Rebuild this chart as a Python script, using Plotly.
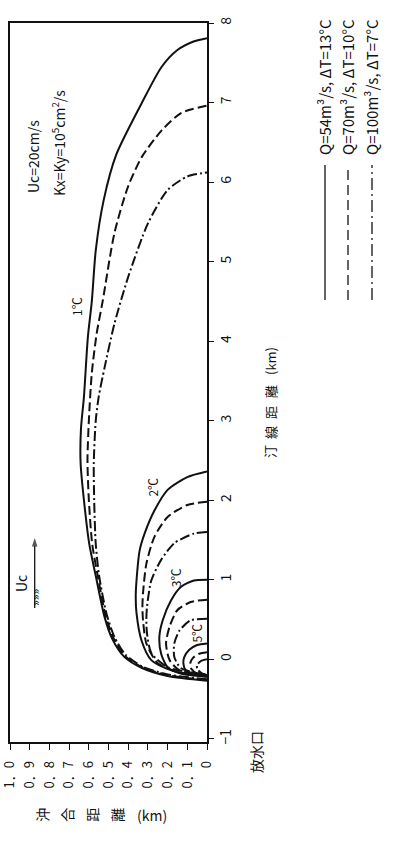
import plotly.graph_objects as go

# ---------------- data (offshore distance km, alongshore distance km) ----------------
# 1 degC isotherms
S1_off = [0, 0.2, 0.33, 0.42, 0.48, 0.52, 0.565, 0.598, 0.625, 0.642, 0.64, 0.625, 0.605, 0.585, 0.565, 0.525, 0.46, 0.33, 0.23, 0.15, 0.065, 0]
S1_along = [-0.27, -0.21, -0.11, 0.03, 0.25, 0.53, 1.05, 1.45, 2.0, 2.47, 2.9, 3.3, 4.05, 4.5, 5.14, 5.77, 6.35, 7.0, 7.45, 7.66, 7.77, 7.81]
D1_off = [0, 0.2, 0.33, 0.42, 0.475, 0.515, 0.555, 0.583, 0.60, 0.607, 0.60, 0.585, 0.56, 0.53, 0.47, 0.40, 0.33, 0.23, 0.13, 0]
D1_along = [-0.26, -0.2, -0.1, 0.05, 0.27, 0.55, 1.05, 1.45, 2.0, 2.5, 3.0, 3.6, 4.1, 4.5, 5.36, 5.95, 6.32, 6.65, 6.87, 6.96]
DD1_off = [0, 0.2, 0.33, 0.415, 0.47, 0.51, 0.548, 0.565, 0.573, 0.575, 0.565, 0.55, 0.52, 0.47, 0.40, 0.30, 0.2, 0.1, 0]
DD1_along = [-0.25, -0.19, -0.09, 0.06, 0.28, 0.57, 1.05, 1.45, 2.0, 2.47, 3.0, 3.3, 3.67, 4.22, 4.81, 5.48, 5.9, 6.07, 6.12]
# 2 degC
S2_off = [0, 0.1, 0.2, 0.267, 0.317, 0.342, 0.358, 0.362, 0.358, 0.333, 0.283, 0.18, 0.09, 0]
S2_along = [2.36, 2.29, 2.13, 1.87, 1.58, 1.37, 0.99, 0.78, 0.58, 0.24, -0.01, -0.14, -0.19, -0.21]
D2_off = [0, 0.1, 0.2, 0.267, 0.308, 0.325, 0.328, 0.325, 0.308, 0.25, 0.15, 0]
D2_along = [1.98, 1.94, 1.79, 1.54, 1.2, 0.83, 0.66, 0.49, 0.2, -0.05, -0.16, -0.2]
DD2_off = [0, 0.067, 0.166, 0.233, 0.283, 0.305, 0.308, 0.305, 0.283, 0.2, 0]
DD2_along = [1.6, 1.58, 1.46, 1.25, 0.99, 0.65, 0.5, 0.33, 0.08, -0.1, -0.19]
# 3 degC
S3_off = [0, 0.066, 0.133, 0.183, 0.225, 0.242, 0.233, 0.2, 0.133, 0]
S3_along = [1.0, 0.99, 0.91, 0.74, 0.49, 0.28, 0.07, -0.1, -0.18, -0.22]
D3_off = [0, 0.083, 0.15, 0.19, 0.208, 0.19, 0.14, 0]
D3_along = [0.75, 0.72, 0.62, 0.41, 0.2, -0.01, -0.14, -0.21]
DD3_off = [0, 0.083, 0.14, 0.166, 0.166, 0.133, 0]
DD3_along = [0.51, 0.49, 0.36, 0.2, 0.03, -0.11, -0.2]
# 5 degC
S5_off = [0, 0.05, 0.09, 0.115, 0.12, 0.11, 0.07, 0]
S5_along = [0.2, 0.18, 0.12, 0.03, -0.05, -0.13, -0.19, -0.22]
D5_off = [0, 0.04, 0.07, 0.085, 0.08, 0.05, 0]
D5_along = [0.09, 0.07, 0.02, -0.05, -0.12, -0.18, -0.21]
DD5_off = [0, 0.03, 0.05, 0.05, 0.03, 0]
DD5_along = [0.0, -0.02, -0.07, -0.12, -0.17, -0.2]

temp_labels = ["1℃", "2℃", "3℃", "5℃"]
temp_label_off = [0.66, 0.275, 0.163, 0.058]
temp_label_along = [4.43, 2.17, 1.03, 0.33]

legend_texts = ["Q=54m³/s, ΔT=13°C", "Q=70m³/s, ΔT=10°C", "Q=100m³/s, ΔT=7°C"]

off_ticks = [1.0, 0.9, 0.8, 0.7, 0.6, 0.5, 0.4, 0.3, 0.2, 0.1, 0.0]
off_ticktext = ["1．0", "0．9", "0．8", "0．7", "0．6", "0．5", "0．4", "0．3", "0．2", "0．1", "0"]
along_ticks = [-1, 0, 1, 2, 3, 4, 5, 6, 7, 8]
along_ticktext = ["−1", "0", "1", "2", "3", "4", "5", "6", "7", "8"]

# current arrow (offshore position, tail and head alongshore positions, km)
arrow_off = [0.875, 0.875]
arrow_along = [0.645, 1.525]

# ---------------- styles ----------------
SOLID = "solid"
DASH = "9px,4px"
DASHDOT = "10px,3px,2px,3px"
FONT = "Liberation Sans Narrow, Noto Sans CJK JP, sans-serif"
CJK = "Noto Sans CJK JP, sans-serif"
INK = "#111111"

curves = [
    (S1_off, S1_along, SOLID), (D1_off, D1_along, DASH), (DD1_off, DD1_along, DASHDOT),
    (S2_off, S2_along, SOLID), (D2_off, D2_along, DASH), (DD2_off, DD2_along, DASHDOT),
    (S3_off, S3_along, SOLID), (D3_off, D3_along, DASH), (DD3_off, DD3_along, DASHDOT),
    (S5_off, S5_along, SOLID), (D5_off, D5_along, DASH), (DD5_off, DD5_along, DASHDOT),
]

fig = go.Figure()
for off, along, dash in curves:
    fig.add_trace(go.Scatter(
        x=off, y=along, mode="lines",
        line=dict(color=INK, width=2, dash=dash, shape="spline", smoothing=0.7),
        showlegend=False, hoverinfo="skip", cliponaxis=False))

# current arrow
fig.add_trace(go.Scatter(
    x=arrow_off, y=arrow_along, mode="lines+markers",
    line=dict(color=INK, width=1.3),
    marker=dict(symbol=["line-ew", "arrow"], size=[1, 9], angleref="previous", color=INK,
                line=dict(width=0)),
    showlegend=False, hoverinfo="skip", cliponaxis=False))

W, H = 394, 851
L, R, T, B = 10, 187, 23, 109
PW, PH = W - L - R, H - T - B


def px(xp):
    return (xp - L) / PW


def py(yp):
    return (H - B - yp) / PH


def note(x, y, text, size, family=FONT, angle=-90, xref="paper", yref="paper", **kw):
    d = dict(x=x, y=y, xref=xref, yref=yref, text=text, textangle=angle, showarrow=False,
             xanchor="center", yanchor="middle", font=dict(family=family, size=size, color=INK))
    d.update(kw)
    return d


ann = []
for t, o, a in zip(temp_labels, temp_label_off, temp_label_along):
    ann.append(note(o, a, t, 12, family=CJK, xref="x", yref="y"))

# Uc annotations
ann.append(note(px(33), py(157), "Uc=20cm/s", 14))
ann.append(note(px(58), py(143), "Kx=Ky=10<sup>5</sup>cm<sup>2</sup>/s", 14))
ann.append(note(px(34), py(598), "»»»", 12))
ann.append(note(px(21), py(584), "Uc", 14))

# axis titles
along_title = ["汀", "線", "距", "離", "(km)"]
along_title_y = [452, 433, 413, 392, 361]
for ch, yy in zip(along_title, along_title_y):
    ann.append(note(px(270), py(yy), ch, 13, family=CJK))
ann.append(note(px(256), py(752), "放水口", 14, family=CJK))
off_title = ["沖", "合", "距", "離"]
off_title_x = [41.7, 66.7, 91.7, 116.7]
for ch, xx in zip(off_title, off_title_x):
    ann.append(note(px(xx), py(815), ch, 14, family=CJK))
ann.append(note(px(152), py(815), "(km)", 14, angle=0))

# legend
leg_x = [325, 348, 372]
leg_dash = [SOLID, "10px,5px", "12px,4px,2px,4px"]
shapes = []
for lx, d, t in zip(leg_x, leg_dash, legend_texts):
    shapes.append(dict(type="line", xref="paper", yref="paper", x0=px(lx), x1=px(lx),
                       y0=py(300), y1=py(165), line=dict(color=INK, width=1.3, dash=d)))
    ann.append(note(px(lx - 1), py(157), t, 15, yanchor="bottom"))

fig.update_layout(
    width=W, height=H, margin=dict(l=L, r=R, t=T, b=B, pad=0, autoexpand=False),
    paper_bgcolor="white", plot_bgcolor="white",
    xaxis=dict(range=[1.0005, 0.0], tickvals=off_ticks, ticktext=off_ticktext, tickangle=-90,
               ticks="outside", ticklen=6, tickwidth=1.3, tickcolor=INK,
               showline=True, linecolor=INK, linewidth=1.5, mirror=True,
               showgrid=False, zeroline=False, ticklabelstandoff=6,
               ticklabeloverflow="allow", automargin=False,
               tickfont=dict(family=FONT, size=13, color=INK)),
    yaxis=dict(range=[-1.04, 8.0], tickvals=along_ticks, ticktext=along_ticktext, tickangle=-90,
               side="right", ticks="outside", ticklen=5, tickwidth=1.3, tickcolor=INK,
               showline=True, linecolor=INK, linewidth=1.5, mirror=True,
               showgrid=False, zeroline=False, ticklabeloverflow="allow", automargin=False,
               tickfont=dict(family=FONT, size=14, color=INK)),
    annotations=ann, shapes=shapes, showlegend=False,
)

fig.write_html("out.html")
